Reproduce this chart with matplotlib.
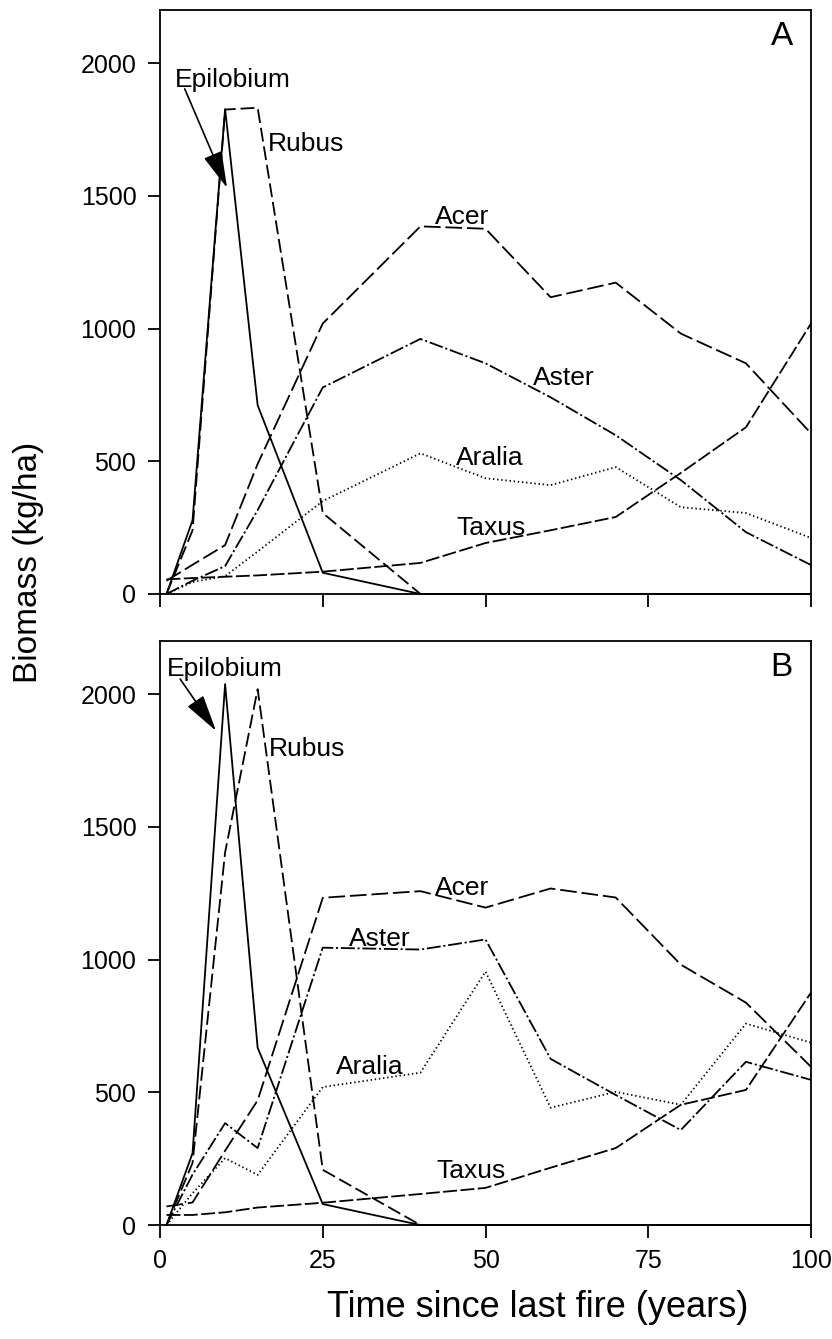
import matplotlib
matplotlib.use("Agg")
import matplotlib.pyplot as plt

plt.rcParams['font.family'] = ['Liberation Sans', 'DejaVu Sans']
plt.rcParams['lines.scale_dashes'] = False

# anni dall'ultimo incendio
anni = [1, 5, 10, 15, 25, 40, 50, 60, 70, 80, 90, 100]

# pannello A
a_epilobium = [0, 278, 1827, 711, 80, 0, 0, 0, 0, 0, 0, 0]
a_rubus = [0, 240, 1825, 1832, 305, 0, 0, 0, 0, 0, 0, 0]
a_acer = [50, 110, 184, 490, 1019, 1385, 1376, 1118, 1173, 981, 869, 605]
a_aster = [0, 50, 105, 316, 778, 961, 869, 741, 598, 429, 233, 109]
a_aralia = [0, 45, 67, 160, 350, 530, 436, 410, 478, 327, 305, 211]
a_taxus = [55, 60, 65, 70, 84, 117, 192, 240, 290, 456, 628, 1019]

# pannello B
b_epilobium = [0, 271, 2038, 668, 79, 0, 0, 0, 0, 0, 0, 0]
b_rubus = [0, 234, 1404, 2019, 208, 0, 0, 0, 0, 0, 0, 0]
b_acer = [70, 85, 280, 470, 1233, 1258, 1196, 1268, 1234, 981, 838, 596]
b_aster = [0, 190, 384, 290, 1045, 1038, 1076, 626, 490, 358, 615, 547]
b_aralia = [0, 120, 252, 189, 520, 574, 955, 442, 502, 453, 759, 687]
b_taxus = [38, 38, 48, 66, 84, 117, 140, 216, 290, 453, 509, 876]

stili = {
    'Epilobium': '-',
    'Rubus': (0, (10, 3.5)),
    'Acer': (0, (12, 3.5)),
    'Aster': (0, (10, 2, 1.5, 2)),
    'Aralia': (0, (1, 2)),
    'Taxus': (0, (10, 2.5)),
}

pannelli = [
    ('A', [0.1923, 0.5564, 0.7825, 0.4361],
     {'Epilobium': a_epilobium, 'Rubus': a_rubus, 'Acer': a_acer,
      'Aster': a_aster, 'Aralia': a_aralia, 'Taxus': a_taxus},
     {'Epilobium': (2.3, 1910), 'Rubus': (16.5, 1669), 'Acer': (42.2, 1395),
      'Aster': (57.3, 786), 'Aralia': (45.5, 485), 'Taxus': (45.6, 222)},
     ((3.8, 1903), (10.3, 1530))),
    ('B', [0.1923, 0.0851, 0.7825, 0.4361],
     {'Epilobium': b_epilobium, 'Rubus': b_rubus, 'Acer': b_acer,
      'Aster': b_aster, 'Aralia': b_aralia, 'Taxus': b_taxus},
     {'Epilobium': (1.0, 2069), 'Rubus': (16.7, 1767), 'Acer': (42.2, 1245),
      'Aster': (29.0, 1050), 'Aralia': (27.1, 569), 'Taxus': (42.5, 176)},
     ((3.1, 2057), (8.6, 1862))),
]

fig = plt.figure(figsize=(8.32, 13.39), dpi=100)

for lettera, pos, serie, etichette, freccia in pannelli:
    ax = fig.add_axes(pos)
    for nome, valori in serie.items():
        ax.plot(anni, valori, color='black', lw=1.3, linestyle=stili[nome],
                clip_on=False)
    for nome, (tx, ty) in etichette.items():
        ax.text(tx, ty, nome, fontsize=19, ha='left', va='baseline')
    ax.annotate('', xy=freccia[1], xytext=freccia[0],
                arrowprops=dict(arrowstyle='-|>,head_length=2.3,head_width=0.6',
                                color='black', lw=1.2, shrinkA=0, shrinkB=0))
    ax.text(0.955, 0.955, lettera, transform=ax.transAxes, fontsize=24,
            ha='center', va='center')
    ax.set_xlim(0, 100)
    ax.set_ylim(0, 2200)
    ax.set_xticks([0, 25, 50, 75, 100])
    ax.set_yticks([0, 500, 1000, 1500, 2000])
    ax.tick_params(direction='out', length=9, width=1.3, labelsize=18, pad=8)
    for sp in ax.spines.values():
        sp.set_linewidth(1.3)
    if lettera == 'A':
        ax.set_xticklabels([])
    else:
        ax.set_xlabel('Time since last fire (years)', fontsize=26)
        ax.xaxis.set_label_coords(0.58, -0.112)

fig.text(0.034, 0.58, 'Biomass (kg/ha)', rotation=90, fontsize=24,
         ha='center', va='center')

plt.savefig('out.png', dpi=100)
